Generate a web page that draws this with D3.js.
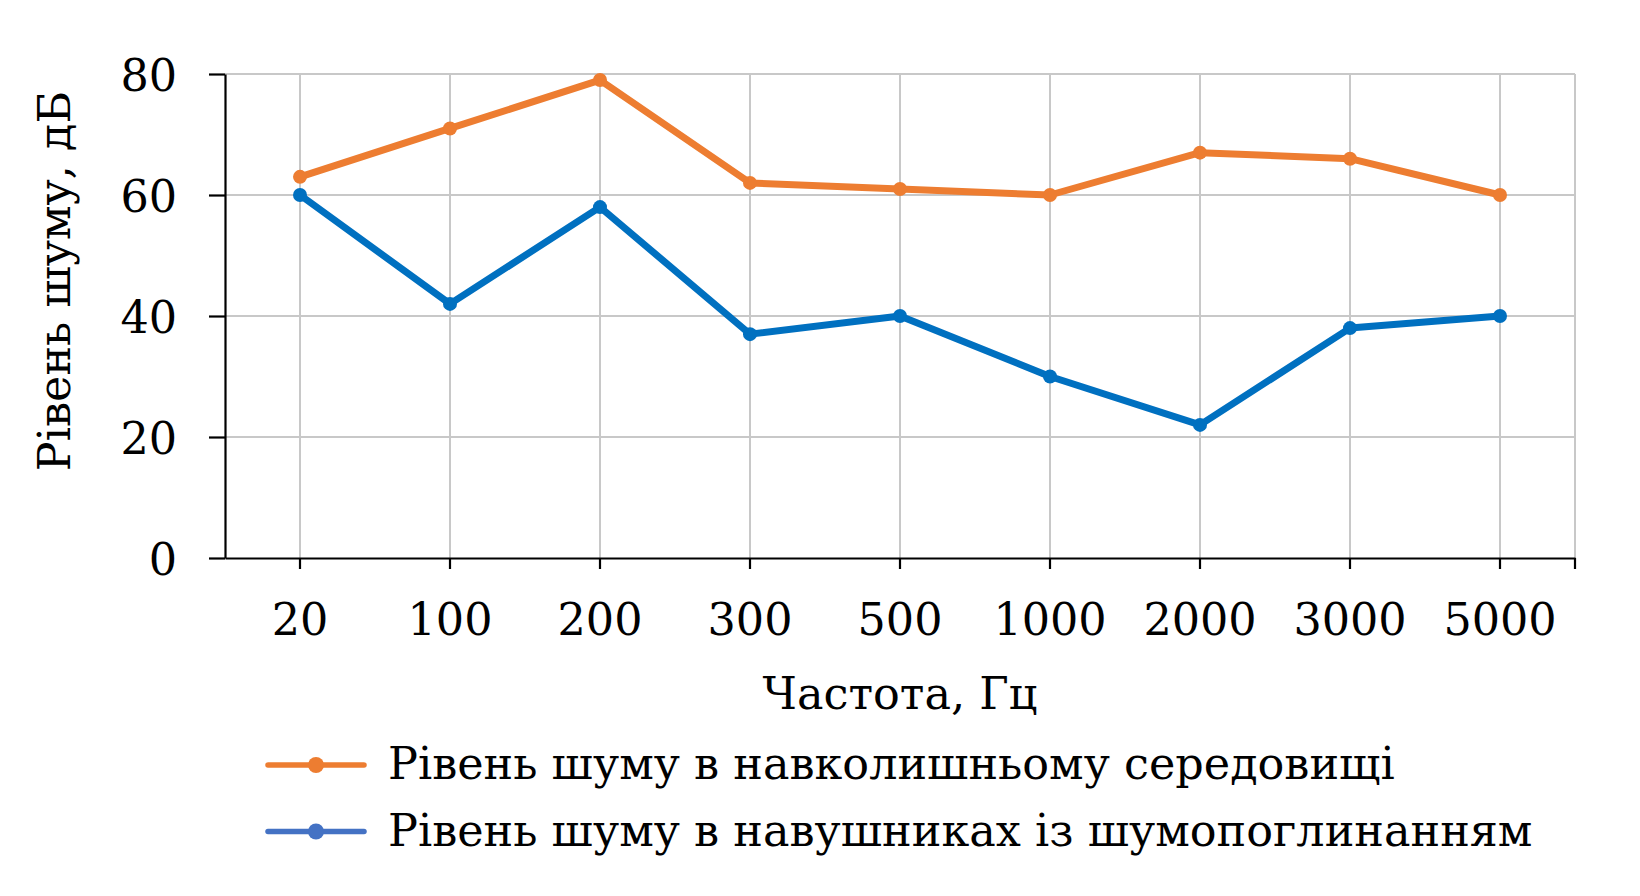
<!DOCTYPE html>
<html>
<head>
<meta charset="utf-8">
<script src="https://cdn.jsdelivr.net/npm/d3@7"></script>
<style>
  body { margin: 0; background: #fff; }
  text { font-family: "DejaVu Serif", "Liberation Serif", serif; fill: #000; }
</style>
</head>
<body>
<svg id="chart" width="1640" height="896"></svg>
<script>
// categories (Hz) and the two series (dB)
const freqs = ["20", "100", "200", "300", "500", "1000", "2000", "3000", "5000"];
const ambient = [63, 71, 79, 62, 61, 60, 67, 66, 60];
const headphones = [60, 42, 58, 37, 40, 30, 22, 38, 40];
const yTicks = [0, 20, 40, 60, 80];

const seriesNames = [
    "Рівень шуму в навколишньому середовищі",
    "Рівень шуму в навушниках із шумопоглинанням"
];
const lineColors = ["#ED7D31", "#0070C0"];
const legendColors = ["#ED7D31", "#4472C4"];

const plot = { left: 225, right: 1575, top: 74, bottom: 558 };
const fontSize = 44.5;

const svg = d3.select("#chart");

const x = d3.scaleBand()
    .domain(freqs)
    .range([plot.left, plot.right]);

const y = d3.scaleLinear()
    .domain([0, 80])
    .range([plot.bottom, plot.top]);

const cx = d => x(d) + x.bandwidth() / 2;

// gridlines
const grid = svg.append("g").attr("stroke", "#C8C8C8").attr("stroke-width", 2);
grid.selectAll(".hg")
    .data(yTicks.filter(d => d > 0))
    .enter().append("line")
    .attr("x1", plot.left).attr("x2", plot.right)
    .attr("y1", d => y(d)).attr("y2", d => y(d));
grid.selectAll(".vg")
    .data(freqs)
    .enter().append("line")
    .attr("x1", d => cx(d)).attr("x2", d => cx(d))
    .attr("y1", plot.top).attr("y2", plot.bottom);
grid.append("line")
    .attr("x1", plot.right).attr("x2", plot.right)
    .attr("y1", plot.top).attr("y2", plot.bottom);

// y axis
const yAxis = svg.append("g")
    .attr("transform", "translate(" + plot.left + ",0)")
    .call(d3.axisLeft(y).tickValues(yTicks).tickSize(16).tickPadding(32).tickSizeOuter(0));
yAxis.select(".domain").attr("stroke", "#000").attr("stroke-width", 2.2);
yAxis.selectAll(".tick line").attr("stroke", "#000").attr("stroke-width", 2.2);
yAxis.selectAll(".tick text")
    .style("font-family", "DejaVu Serif")
    .attr("font-size", fontSize)
    .attr("dy", "0.36em");

// x axis
const xAxis = svg.append("g")
    .attr("transform", "translate(0," + plot.bottom + ")")
    .call(d3.axisBottom(x).tickSize(11).tickPadding(34).tickSizeOuter(0));
xAxis.select(".domain").attr("stroke", "#000").attr("stroke-width", 2.2);
xAxis.selectAll(".tick line").attr("stroke", "#000").attr("stroke-width", 2.2);
xAxis.selectAll(".tick text")
    .style("font-family", "DejaVu Serif")
    .attr("font-size", fontSize)
    .attr("dy", "0.72em");
// closing tick at the right end of the category axis
xAxis.append("line")
    .attr("x1", plot.right).attr("x2", plot.right)
    .attr("y1", 0).attr("y2", 11)
    .attr("stroke", "#000").attr("stroke-width", 2.2);

// axis titles
svg.append("text")
    .attr("x", (plot.left + plot.right) / 2)
    .attr("y", 709)
    .attr("text-anchor", "middle")
    .attr("font-size", fontSize)
    .text("Частота, Гц");

svg.append("text")
    .attr("transform", "translate(70," + ((plot.top + plot.bottom) / 2 - 35) + ") rotate(-90)")
    .attr("text-anchor", "middle")
    .attr("font-size", fontSize)
    .text("Рівень шуму, дБ");

// series lines + markers
const line = d3.line()
    .x((d, i) => cx(freqs[i]))
    .y(d => y(d));

[ambient, headphones].forEach((vals, k) => {
    svg.append("path")
        .datum(vals)
        .attr("fill", "none")
        .attr("stroke", lineColors[k])
        .attr("stroke-width", 7)
        .attr("stroke-linejoin", "round")
        .attr("stroke-linecap", "round")
        .attr("d", line);
    svg.selectAll(".m" + k)
        .data(vals)
        .enter().append("circle")
        .attr("cx", (d, i) => cx(freqs[i]))
        .attr("cy", d => y(d))
        .attr("r", 7)
        .attr("fill", lineColors[k]);
});

// legend
const legend = svg.append("g").attr("transform", "translate(268,779)");
seriesNames.forEach((name, k) => {
    const row = legend.append("g").attr("transform", "translate(0," + (k * 66.5) + ")");
    row.append("line")
        .attr("x1", 0).attr("x2", 96)
        .attr("y1", -14).attr("y2", -14)
        .attr("stroke", legendColors[k])
        .attr("stroke-width", 5.5)
        .attr("stroke-linecap", "round");
    row.append("circle")
        .attr("cx", 48).attr("cy", -14).attr("r", 8)
        .attr("fill", legendColors[k]);
    row.append("text")
        .attr("x", 120)
        .attr("font-size", fontSize)
        .text(name);
});
</script>
</body>
</html>
